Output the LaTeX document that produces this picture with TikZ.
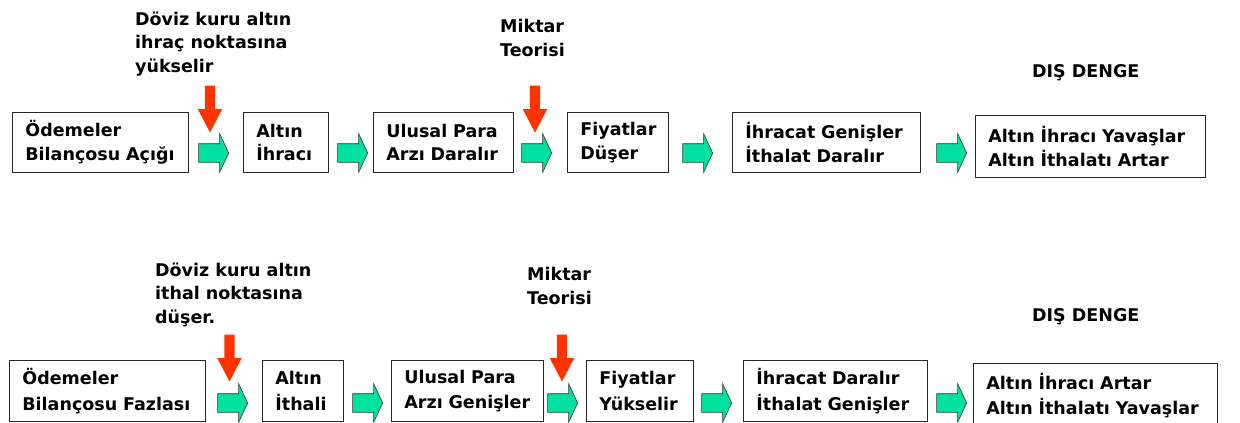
\documentclass[tikz,border=0pt]{standalone}
\usepackage{fontspec}
\setmainfont{DejaVu Sans}
\usetikzlibrary{shapes.arrows}
\definecolor{flowgreen}{HTML}{00E0A0}
\definecolor{flowred}{HTML}{FF3300}
\begin{document}
\begin{tikzpicture}[x=1pt,y=-1pt,
  every node/.style={font=\bfseries\fontsize{17.5}{23.5}\selectfont},
  box/.style={draw=black!85, line width=0.8pt, anchor=north west, align=left,
              inner xsep=13pt, inner ysep=0pt},
  lowbox/.style={box, font=\bfseries\fontsize{17.5}{25.5}\selectfont},
  note/.style={anchor=base west, align=left, inner sep=0pt},
  flow/.style={single arrow, draw=black!80, line width=0.6pt, fill=flowgreen,
               inner sep=0pt, text height=9pt, text depth=9pt,
               minimum height=30pt, minimum width=38pt,
               single arrow head extend=10pt, single arrow tip angle=130,
               anchor=tip},
  push/.style={single arrow, fill=flowred, inner sep=0pt,
               text height=5pt, text depth=5pt, minimum height=47pt,
               minimum width=24pt, single arrow head extend=7pt,
               single arrow tip angle=55, rotate=-90, anchor=tip}]
\useasboundingbox (0,0) rectangle (1240,423);

% --- deficit chain (notes anchored at their last baseline) ---
\node[note] (n1) at (135,72) {Döviz kuru altın\\ihraç noktasına\\yükselir};
\node[note] (n2) at (500,56) {Miktar\\Teorisi};
\node[note] (n3) at (1032,77) {DIŞ DENGE};

\node[box, minimum width=176pt, minimum height=60pt, text width=150pt] (b1) at (12,112) {Ödemeler\\Bilançosu Açığı};
\node[box, minimum width=85pt, minimum height=60pt, text width=59pt] (b2) at (243,112) {Altın\\İhracı};
\node[box, minimum width=140pt, minimum height=60pt, text width=114pt] (b3) at (373,112) {Ulusal Para\\Arzı Daralır};
\node[box, minimum width=101pt, minimum height=60pt, text width=75pt] (b4) at (567,112) {Fiyatlar\\Düşer};
\node[box, minimum width=188pt, minimum height=60pt, text width=162pt] (b5) at (732,112) {İhracat Genişler\\İthalat Daralır};
\node[box, minimum width=230pt, minimum height=62pt, text width=204pt] (b6) at (975,115) {Altın İhracı Yavaşlar\\Altın İthalatı Artar};

\node[flow] (f1) at (229,153) {};
\node[flow] (f2) at (368,153) {};
\node[flow] (f3) at (552,153) {};
\node[flow] (f4) at (713,153) {};
\node[flow] (f5) at (967,153) {};

\node[push] (p1) at (210,133) {};
\node[push] (p2) at (535,133) {};

% --- surplus chain ---
\node[note] (m1) at (155,323) {Döviz kuru altın\\ithal noktasına\\düşer.};
\node[note] (m2) at (527,304) {Miktar\\Teorisi};
\node[note] (m3) at (1032,321) {DIŞ DENGE};

\node[lowbox, minimum width=196pt, minimum height=61pt, text width=170pt] (c1) at (9,360) {Ödemeler\\Bilançosu Fazlası};
\node[lowbox, minimum width=81pt, minimum height=61pt, text width=55pt] (c2) at (262,360) {Altın\\İthali};
\node[lowbox, minimum width=152pt, minimum height=61pt, text width=126pt] (c3) at (391,360) {Ulusal Para\\Arzı Genişler};
\node[lowbox, minimum width=107pt, minimum height=61pt, text width=81pt] (c4) at (586,360) {Fiyatlar\\Yükselir};
\node[lowbox, minimum width=184pt, minimum height=61pt, text width=158pt] (c5) at (743,360) {İhracat Daralır\\İthalat Genişler};
\node[lowbox, minimum width=244pt, minimum height=64pt, text width=218pt] (c6) at (973,363) {Altın İhracı Artar\\Altın İthalatı Yavaşlar};

\node[flow] (g1) at (248,403) {};
\node[flow] (g2) at (383,403) {};
\node[flow] (g3) at (578,403) {};
\node[flow] (g4) at (732,403) {};
\node[flow] (g5) at (967,403) {};

\node[push] (q1) at (229.5,382) {};
\node[push] (q2) at (562,382) {};
\end{tikzpicture}
\end{document}
